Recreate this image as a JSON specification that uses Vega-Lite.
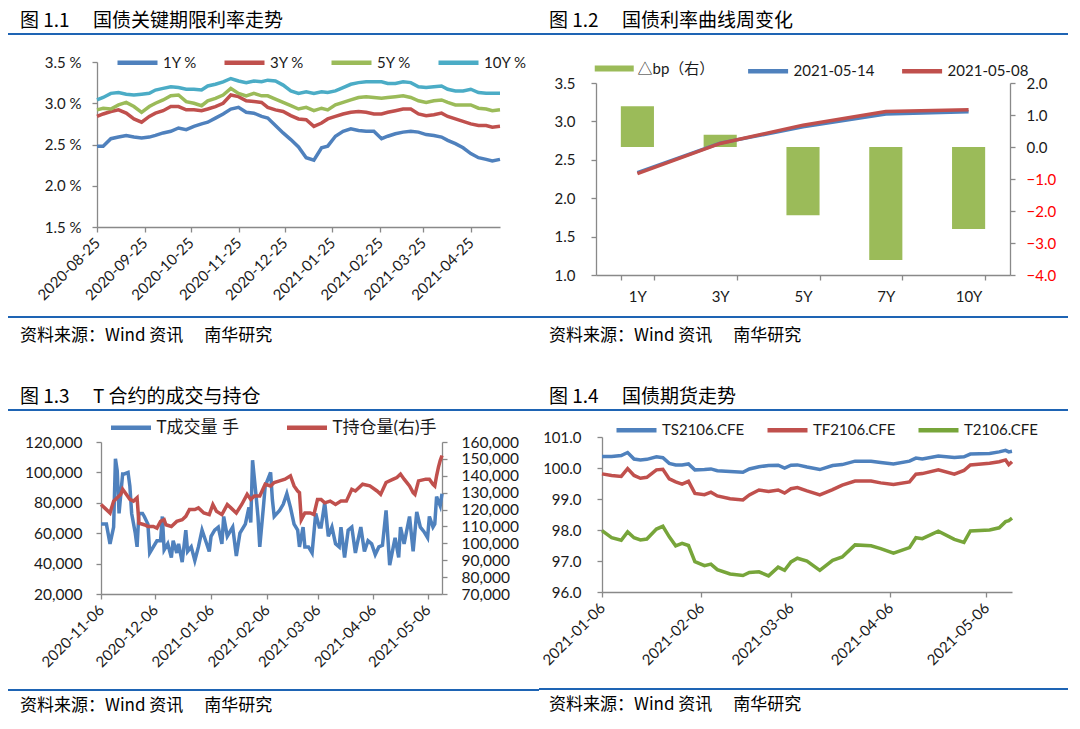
{
  "$schema": "https://vega.github.io/schema/vega-lite/v6.json",
  "background": "white",
  "padding": {"left": 8, "top": 12, "right": 4, "bottom": 4},
  "config": {
    "view": {"stroke": null},
    "font": "Lato",
    "title": {"font": "Noto Sans CJK SC", "fontWeight": "normal", "color": "#000000", "anchor": "start", "frame": "group"},
    "axis": {"domainColor": "#898989", "tickColor": "#898989", "labelColor": "#1a1a1a", "labelFont": "Lato", "labelFontSize": 15, "grid": false, "tickSize": 5, "domainWidth": 1.3, "tickWidth": 1.3},
    "legend": {"labelFont": "Lato, Noto Sans CJK SC", "labelFontSize": 15, "labelColor": "#1a1a1a", "orient": "none", "direction": "horizontal", "symbolType": "M-1,0H3", "symbolStrokeWidth": 4.5, "symbolSize": 400, "labelOffset": 23, "padding": 0}
  },
  "resolve": {"scale": {"color": "independent", "stroke": "independent"}, "legend": {"color": "independent", "stroke": "independent"}},
  "spacing": {"row": 44, "column": 0},
  "columns": 2,
  "concat": [
    {
      "resolve": {"scale": {"color": "independent", "stroke": "independent"}, "legend": {"color": "independent", "stroke": "independent"}},
      "spacing": 13,
      "vconcat": [
        {
          "resolve": {"scale": {"color": "independent", "stroke": "independent"}, "legend": {"color": "independent", "stroke": "independent"}},
          "spacing": 15,
          "vconcat": [
            {"width": 531, "height": 2, "data": {"values": []}, "mark": "text", "view": {"fill": "#1E64B4", "stroke": null},
             "title": {"text": "图 1.1　 国债关键期限利率走势", "dx": 12, "offset": 2, "fontSize": 19}},
            {
              "width": 492, "height": 165,
              "data": {"values": [
                {"d":"2020-08-25","1Y":2.48,"3Y":2.84,"5Y":2.92,"10Y":3.04},
                {"d":"2020-08-29","1Y":2.48,"3Y":2.87,"5Y":2.94,"10Y":3.07},
                {"d":"2020-09-03","1Y":2.57,"3Y":2.90,"5Y":2.93,"10Y":3.12},
                {"d":"2020-09-08","1Y":2.59,"3Y":2.92,"5Y":2.98,"10Y":3.13},
                {"d":"2020-09-13","1Y":2.61,"3Y":2.88,"5Y":3.01,"10Y":3.11},
                {"d":"2020-09-18","1Y":2.59,"3Y":2.81,"5Y":2.96,"10Y":3.10},
                {"d":"2020-09-23","1Y":2.58,"3Y":2.77,"5Y":2.89,"10Y":3.11},
                {"d":"2020-09-28","1Y":2.59,"3Y":2.84,"5Y":2.96,"10Y":3.12},
                {"d":"2020-10-02","1Y":2.61,"3Y":2.88,"5Y":3.00,"10Y":3.16},
                {"d":"2020-10-07","1Y":2.64,"3Y":2.91,"5Y":3.04,"10Y":3.18},
                {"d":"2020-10-12","1Y":2.66,"3Y":2.96,"5Y":3.09,"10Y":3.20},
                {"d":"2020-10-17","1Y":2.70,"3Y":2.96,"5Y":3.10,"10Y":3.19},
                {"d":"2020-10-22","1Y":2.68,"3Y":2.92,"5Y":3.02,"10Y":3.17},
                {"d":"2020-10-27","1Y":2.72,"3Y":2.92,"5Y":3.00,"10Y":3.17},
                {"d":"2020-11-01","1Y":2.75,"3Y":2.91,"5Y":2.97,"10Y":3.16},
                {"d":"2020-11-05","1Y":2.77,"3Y":2.93,"5Y":3.03,"10Y":3.21},
                {"d":"2020-11-10","1Y":2.82,"3Y":2.96,"5Y":3.06,"10Y":3.23},
                {"d":"2020-11-15","1Y":2.87,"3Y":3.00,"5Y":3.10,"10Y":3.26},
                {"d":"2020-11-20","1Y":2.93,"3Y":3.10,"5Y":3.18,"10Y":3.30},
                {"d":"2020-11-25","1Y":2.95,"3Y":3.08,"5Y":3.12,"10Y":3.27},
                {"d":"2020-11-30","1Y":2.89,"3Y":3.03,"5Y":3.09,"10Y":3.25},
                {"d":"2020-12-05","1Y":2.88,"3Y":3.02,"5Y":3.12,"10Y":3.27},
                {"d":"2020-12-10","1Y":2.84,"3Y":3.01,"5Y":3.09,"10Y":3.26},
                {"d":"2020-12-14","1Y":2.82,"3Y":2.95,"5Y":3.09,"10Y":3.28},
                {"d":"2020-12-19","1Y":2.73,"3Y":2.92,"5Y":3.05,"10Y":3.27},
                {"d":"2020-12-24","1Y":2.64,"3Y":2.90,"5Y":3.01,"10Y":3.22},
                {"d":"2020-12-29","1Y":2.56,"3Y":2.85,"5Y":2.97,"10Y":3.15},
                {"d":"2021-01-03","1Y":2.47,"3Y":2.81,"5Y":2.93,"10Y":3.12},
                {"d":"2021-01-08","1Y":2.34,"3Y":2.80,"5Y":2.95,"10Y":3.14},
                {"d":"2021-01-13","1Y":2.31,"3Y":2.72,"5Y":2.91,"10Y":3.12},
                {"d":"2021-01-18","1Y":2.46,"3Y":2.76,"5Y":2.94,"10Y":3.14},
                {"d":"2021-01-22","1Y":2.48,"3Y":2.81,"5Y":2.92,"10Y":3.13},
                {"d":"2021-01-27","1Y":2.60,"3Y":2.84,"5Y":2.98,"10Y":3.15},
                {"d":"2021-02-01","1Y":2.66,"3Y":2.87,"5Y":3.01,"10Y":3.19},
                {"d":"2021-02-06","1Y":2.69,"3Y":2.89,"5Y":3.04,"10Y":3.23},
                {"d":"2021-02-11","1Y":2.67,"3Y":2.90,"5Y":3.07,"10Y":3.25},
                {"d":"2021-02-16","1Y":2.66,"3Y":2.89,"5Y":3.08,"10Y":3.26},
                {"d":"2021-02-21","1Y":2.66,"3Y":2.87,"5Y":3.07,"10Y":3.26},
                {"d":"2021-02-26","1Y":2.57,"3Y":2.87,"5Y":3.06,"10Y":3.26},
                {"d":"2021-03-02","1Y":2.60,"3Y":2.89,"5Y":3.07,"10Y":3.24},
                {"d":"2021-03-07","1Y":2.63,"3Y":2.91,"5Y":3.08,"10Y":3.24},
                {"d":"2021-03-12","1Y":2.65,"3Y":2.93,"5Y":3.09,"10Y":3.26},
                {"d":"2021-03-17","1Y":2.66,"3Y":2.93,"5Y":3.07,"10Y":3.25},
                {"d":"2021-03-22","1Y":2.65,"3Y":2.87,"5Y":3.03,"10Y":3.20},
                {"d":"2021-03-27","1Y":2.62,"3Y":2.85,"5Y":3.01,"10Y":3.19},
                {"d":"2021-04-01","1Y":2.61,"3Y":2.86,"5Y":3.03,"10Y":3.20},
                {"d":"2021-04-06","1Y":2.59,"3Y":2.88,"5Y":3.04,"10Y":3.21},
                {"d":"2021-04-10","1Y":2.55,"3Y":2.84,"5Y":3.01,"10Y":3.17},
                {"d":"2021-04-15","1Y":2.51,"3Y":2.81,"5Y":2.98,"10Y":3.15},
                {"d":"2021-04-20","1Y":2.46,"3Y":2.78,"5Y":2.98,"10Y":3.15},
                {"d":"2021-04-25","1Y":2.39,"3Y":2.75,"5Y":2.98,"10Y":3.17},
                {"d":"2021-04-30","1Y":2.34,"3Y":2.73,"5Y":2.94,"10Y":3.13},
                {"d":"2021-05-05","1Y":2.32,"3Y":2.73,"5Y":2.93,"10Y":3.12},
                {"d":"2021-05-09","1Y":2.30,"3Y":2.71,"5Y":2.91,"10Y":3.12},
                {"d":"2021-05-14","1Y":2.32,"3Y":2.72,"5Y":2.92,"10Y":3.12}
              ]},
              "transform": [{"fold": ["1Y", "3Y", "5Y", "10Y"], "as": ["s", "v"]}],
              "mark": {"type": "line", "strokeWidth": 3.5},
              "encoding": {
                "x": {"field": "d", "type": "temporal",
                      "scale": {"type": "utc", "range": [89, 492], "domain": [{"year": 2020, "month": 8, "date": 25, "utc": true}, {"year": 2021, "month": 5, "date": 14, "utc": true}]},
                      "axis": {"title": null, "format": "%Y-%m-%d", "labelAngle": -45, "labelAlign": "right", "labelBaseline": "middle", "labelPadding": 8, "labelOverlap": false, "labelFlush": false,
                               "values": [{"year": 2020, "month": 8, "date": 25, "utc": true}, {"year": 2020, "month": 9, "date": 25, "utc": true}, {"year": 2020, "month": 10, "date": 25, "utc": true}, {"year": 2020, "month": 11, "date": 25, "utc": true}, {"year": 2020, "month": 12, "date": 25, "utc": true}, {"year": 2021, "month": 1, "date": 25, "utc": true}, {"year": 2021, "month": 2, "date": 25, "utc": true}, {"year": 2021, "month": 3, "date": 25, "utc": true}, {"year": 2021, "month": 4, "date": 25, "utc": true}]}},
                "y": {"field": "v", "type": "quantitative", "scale": {"domain": [1.5, 3.5]},
                      "axis": {"title": null, "offset": -89, "values": [1.5, 2, 2.5, 3, 3.5], "labelExpr": "format(datum.value, '.1f') + ' %'", "labelPadding": 11}},
                "color": {"field": "s", "type": "nominal",
                          "scale": {"domain": ["1Y", "3Y", "5Y", "10Y"], "range": ["#4F81BD", "#C0504D", "#9BBB59", "#4BACC6"]},
                          "legend": {"title": null, "legendX": 107, "legendY": -12, "columnPadding": 18, "labelExpr": "datum.label + ' %'"}}
              }
            }
          ]
        },
        {"width": 531, "height": 2, "data": {"values": []}, "mark": "text", "view": {"fill": "#1E64B4", "stroke": null},
         "title": {"text": "资料来源：Wind 资讯　 南华研究", "orient": "bottom", "dx": 12, "offset": 10, "fontSize": 17}}
      ]
    },
    {
      "resolve": {"scale": {"color": "independent", "stroke": "independent"}, "legend": {"color": "independent", "stroke": "independent"}},
      "spacing": 12,
      "vconcat": [
        {
          "resolve": {"scale": {"color": "independent", "stroke": "independent"}, "legend": {"color": "independent", "stroke": "independent"}},
          "spacing": 23,
          "vconcat": [
            {"width": 529, "height": 2, "data": {"values": []}, "mark": "text", "view": {"fill": "#1E64B4", "stroke": null},
             "title": {"text": "图 1.2　 国债利率曲线周变化", "dx": 10, "offset": 2, "fontSize": 19}},
            {
              "width": 471, "height": 192,
              "data": {"values": [
                {"t": "1Y", "bp": 1.27, "s14": 2.332, "s08": 2.319},
                {"t": "3Y", "bp": 0.38, "s14": 2.717, "s08": 2.713},
                {"t": "5Y", "bp": -2.13, "s14": 2.930, "s08": 2.951},
                {"t": "7Y", "bp": -3.53, "s14": 3.095, "s08": 3.130},
                {"t": "10Y", "bp": -2.56, "s14": 3.125, "s08": 3.151}
              ]},
              "encoding": {
                "x": {"field": "t", "type": "nominal", "sort": null,
                      "scale": {"range": [57, 471], "paddingInner": 0.6, "paddingOuter": 0.3},
                      "axis": {"title": null, "labelAngle": 0, "labelPadding": 9, "tickBand": "extent"}}
              },
              "layer": [
                {
                  "mark": {"type": "bar"},
                  "encoding": {
                    "y": {"field": "bp", "type": "quantitative", "scale": {"domain": [-4, 2]},
                          "axis": {"title": null, "orient": "right", "values": [-4, -3, -2, -1, 0, 1, 2], "format": ".1f", "labelPadding": 11,
                                   "labelColor": {"condition": {"test": "datum.value < 0", "value": "#FF0000"}, "value": "#1a1a1a"}}},
                    "color": {"datum": "△bp（右）", "type": "nominal", "scale": {"domain": ["△bp（右）"], "range": ["#9BBB59"]},
                              "legend": {"title": null, "legendX": 55.5, "legendY": -24.5, "symbolType": "M-1,-0.3H3V0.3H-1Z", "symbolSize": 380, "symbolStrokeWidth": 0}}
                  }
                },
                {
                  "transform": [{"fold": ["s14", "s08"], "as": ["s", "v"]}],
                  "mark": {"type": "line", "strokeWidth": 3.5},
                  "encoding": {
                    "y": {"field": "v", "type": "quantitative", "scale": {"domain": [1, 3.5]},
                          "axis": {"title": null, "orient": "left", "offset": -57, "values": [1, 1.5, 2, 2.5, 3, 3.5], "format": ".1f", "labelPadding": 16}},
                    "stroke": {"field": "s", "type": "nominal", "scale": {"domain": ["s14", "s08"], "range": ["#4F81BD", "#C0504D"]},
                               "legend": {"title": null, "legendX": 206.6, "legendY": -24.5, "columnPadding": 18, "labelExpr": "datum.label == 's14' ? '2021-05-14' : '2021-05-08'"}}
                  }
                }
              ],
              "resolve": {"scale": {"y": "independent"}}
            }
          ]
        },
        {"width": 529, "height": 2, "data": {"values": []}, "mark": "text", "view": {"fill": "#1E64B4", "stroke": null},
         "title": {"text": "资料来源：Wind 资讯　 南华研究", "orient": "bottom", "dx": 10, "offset": 10, "fontSize": 17}}
      ]
    },
    {
      "resolve": {"scale": {"color": "independent", "stroke": "independent"}, "legend": {"color": "independent", "stroke": "independent"}},
      "spacing": 19,
      "vconcat": [
        {
          "resolve": {"scale": {"color": "independent", "stroke": "independent"}, "legend": {"color": "independent", "stroke": "independent"}},
          "spacing": 4,
          "vconcat": [
            {"width": 531, "height": 2, "data": {"values": []}, "mark": "text", "view": {"fill": "#1E64B4", "stroke": null},
             "title": {"text": "图 1.3　 T 合约的成交与持仓", "dx": 12, "offset": 2, "fontSize": 19}},
            {
              "width": 434, "height": 152,
              "encoding": {
                "x": {"field": "d", "type": "temporal",
                      "scale": {"type": "utc", "range": [93, 434], "domain": [{"year": 2020, "month": 11, "date": 6, "utc": true}, {"year": 2021, "month": 5, "date": 14, "utc": true}]},
                      "axis": {"title": null, "format": "%Y-%m-%d", "labelAngle": -45, "labelAlign": "right", "labelBaseline": "middle", "labelPadding": 8, "labelOverlap": false, "labelFlush": false,
                               "values": [{"year": 2020, "month": 11, "date": 6, "utc": true}, {"year": 2020, "month": 12, "date": 6, "utc": true}, {"year": 2021, "month": 1, "date": 6, "utc": true}, {"year": 2021, "month": 2, "date": 6, "utc": true}, {"year": 2021, "month": 3, "date": 6, "utc": true}, {"year": 2021, "month": 4, "date": 6, "utc": true}, {"year": 2021, "month": 5, "date": 6, "utc": true}]}}
              },
              "layer": [
                {
                  "data": {"values": [
                    {"d":"2020-11-06","v":66000},{"d":"2020-11-09","v":66000},{"d":"2020-11-11","v":53000},{"d":"2020-11-13","v":64000},
                    {"d":"2020-11-14","v":109000},{"d":"2020-11-15","v":101000},{"d":"2020-11-16","v":73000},{"d":"2020-11-18","v":99000},
                    {"d":"2020-11-19","v":99000},{"d":"2020-11-21","v":100000},{"d":"2020-11-22","v":91000},{"d":"2020-11-23","v":73000},
                    {"d":"2020-11-25","v":60000},{"d":"2020-11-26","v":51000},{"d":"2020-11-27","v":73000},{"d":"2020-11-29","v":73000},
                    {"d":"2020-11-30","v":71000},{"d":"2020-12-02","v":66000},{"d":"2020-12-03","v":47000},{"d":"2020-12-05","v":51000},
                    {"d":"2020-12-07","v":55000},{"d":"2020-12-09","v":55000},{"d":"2020-12-10","v":71000},{"d":"2020-12-11","v":49000},
                    {"d":"2020-12-13","v":53000},{"d":"2020-12-15","v":44000},{"d":"2020-12-16","v":55000},{"d":"2020-12-18","v":47000},
                    {"d":"2020-12-19","v":53000},{"d":"2020-12-21","v":41000},{"d":"2020-12-23","v":62000},{"d":"2020-12-24","v":48000},
                    {"d":"2020-12-26","v":51000},{"d":"2020-12-28","v":42000},{"d":"2020-12-30","v":51000},{"d":"2021-01-01","v":62000},
                    {"d":"2021-01-03","v":55000},{"d":"2021-01-05","v":48000},{"d":"2021-01-06","v":58000},{"d":"2021-01-08","v":62000},
                    {"d":"2021-01-10","v":64000},{"d":"2021-01-12","v":53000},{"d":"2021-01-13","v":71000},{"d":"2021-01-15","v":58000},
                    {"d":"2021-01-17","v":62000},{"d":"2021-01-18","v":64000},{"d":"2021-01-20","v":45000},{"d":"2021-01-22","v":60000},
                    {"d":"2021-01-24","v":64000},{"d":"2021-01-25","v":66000},{"d":"2021-01-27","v":77000},{"d":"2021-01-28","v":67000},
                    {"d":"2021-01-29","v":108000},{"d":"2021-01-31","v":84000},{"d":"2021-02-01","v":71000},{"d":"2021-02-02","v":51000},
                    {"d":"2021-02-04","v":77000},{"d":"2021-02-05","v":91000},{"d":"2021-02-08","v":100000},{"d":"2021-02-09","v":82000},
                    {"d":"2021-02-10","v":71000},{"d":"2021-02-13","v":75000},{"d":"2021-02-15","v":79000},{"d":"2021-02-17","v":86000},
                    {"d":"2021-02-19","v":77000},{"d":"2021-02-21","v":66000},{"d":"2021-02-23","v":62000},{"d":"2021-02-24","v":51000},
                    {"d":"2021-02-26","v":64000},{"d":"2021-02-27","v":51000},{"d":"2021-03-01","v":51000},{"d":"2021-03-03","v":47000},
                    {"d":"2021-03-05","v":73000},{"d":"2021-03-07","v":64000},{"d":"2021-03-08","v":64000},{"d":"2021-03-10","v":80000},
                    {"d":"2021-03-12","v":58000},{"d":"2021-03-14","v":64000},{"d":"2021-03-16","v":53000},{"d":"2021-03-18","v":51000},
                    {"d":"2021-03-19","v":64000},{"d":"2021-03-21","v":44000},{"d":"2021-03-23","v":62000},{"d":"2021-03-25","v":64000},
                    {"d":"2021-03-27","v":47000},{"d":"2021-03-28","v":53000},{"d":"2021-03-30","v":64000},{"d":"2021-04-01","v":48000},
                    {"d":"2021-04-03","v":55000},{"d":"2021-04-05","v":53000},{"d":"2021-04-07","v":46000},{"d":"2021-04-09","v":51000},
                    {"d":"2021-04-11","v":52000},{"d":"2021-04-13","v":75000},{"d":"2021-04-15","v":39000},{"d":"2021-04-17","v":51000},
                    {"d":"2021-04-18","v":57000},{"d":"2021-04-20","v":44000},{"d":"2021-04-21","v":64000},{"d":"2021-04-23","v":53000},
                    {"d":"2021-04-26","v":71000},{"d":"2021-04-28","v":48000},{"d":"2021-04-30","v":74000},{"d":"2021-05-02","v":64000},
                    {"d":"2021-05-04","v":61000},{"d":"2021-05-06","v":57000},{"d":"2021-05-07","v":71000},{"d":"2021-05-09","v":64000},
                    {"d":"2021-05-10","v":66000},{"d":"2021-05-11","v":84000},{"d":"2021-05-13","v":78000},{"d":"2021-05-14","v":86000}
                  ]},
                  "mark": {"type": "line", "strokeWidth": 3.5},
                  "encoding": {
                    "y": {"field": "v", "type": "quantitative", "scale": {"domain": [20000, 120000]},
                          "axis": {"title": null, "orient": "left", "offset": -93, "values": [20000, 40000, 60000, 80000, 100000, 120000], "format": ",.0f", "labelFontSize": 15.5, "labelPadding": 14}},
                    "stroke": {"datum": "T成交量 手", "type": "nominal",
                               "scale": {"domain": ["T成交量 手", "T持仓量(右)手"], "range": ["#4F81BD", "#C0504D"]},
                               "legend": {"title": null, "legendX": 100.5, "legendY": -27, "columnPadding": 38, "labelFontSize": 17}}
                  }
                },
                {
                  "data": {"values": [
                    {"d":"2020-11-06","oi":123000},{"d":"2020-11-08","oi":121000},{"d":"2020-11-11","oi":118000},{"d":"2020-11-13","oi":125000},
                    {"d":"2020-11-15","oi":127000},{"d":"2020-11-17","oi":129000},{"d":"2020-11-18","oi":132000},{"d":"2020-11-20","oi":129000},
                    {"d":"2020-11-22","oi":126000},{"d":"2020-11-24","oi":125000},{"d":"2020-11-26","oi":127000},{"d":"2020-11-27","oi":112000},
                    {"d":"2020-11-30","oi":111000},{"d":"2020-12-02","oi":110000},{"d":"2020-12-05","oi":110000},{"d":"2020-12-07","oi":109000},
                    {"d":"2020-12-09","oi":113000},{"d":"2020-12-11","oi":114000},{"d":"2020-12-12","oi":111000},{"d":"2020-12-15","oi":110000},
                    {"d":"2020-12-18","oi":113000},{"d":"2020-12-21","oi":114000},{"d":"2020-12-23","oi":116000},{"d":"2020-12-25","oi":120000},
                    {"d":"2020-12-28","oi":120000},{"d":"2020-12-30","oi":121000},{"d":"2021-01-02","oi":118000},{"d":"2021-01-05","oi":117000},
                    {"d":"2021-01-07","oi":123000},{"d":"2021-01-09","oi":119000},{"d":"2021-01-12","oi":117000},{"d":"2021-01-15","oi":123000},
                    {"d":"2021-01-17","oi":121000},{"d":"2021-01-20","oi":118000},{"d":"2021-01-23","oi":123000},{"d":"2021-01-26","oi":129000},
                    {"d":"2021-01-28","oi":126000},{"d":"2021-01-30","oi":128000},{"d":"2021-02-02","oi":128000},{"d":"2021-02-05","oi":135000},
                    {"d":"2021-02-08","oi":134000},{"d":"2021-02-10","oi":136000},{"d":"2021-02-13","oi":137000},{"d":"2021-02-16","oi":138000},
                    {"d":"2021-02-19","oi":140000},{"d":"2021-02-21","oi":134000},{"d":"2021-02-23","oi":131000},{"d":"2021-02-24","oi":130000},
                    {"d":"2021-02-25","oi":114000},{"d":"2021-02-27","oi":118000},{"d":"2021-03-02","oi":118000},{"d":"2021-03-04","oi":117000},
                    {"d":"2021-03-06","oi":126000},{"d":"2021-03-08","oi":126000},{"d":"2021-03-10","oi":124000},{"d":"2021-03-13","oi":125000},
                    {"d":"2021-03-16","oi":123000},{"d":"2021-03-19","oi":125000},{"d":"2021-03-22","oi":125000},{"d":"2021-03-25","oi":132000},
                    {"d":"2021-03-27","oi":131000},{"d":"2021-03-31","oi":135000},{"d":"2021-04-04","oi":134000},{"d":"2021-04-08","oi":131000},
                    {"d":"2021-04-10","oi":129000},{"d":"2021-04-13","oi":136000},{"d":"2021-04-17","oi":138000},{"d":"2021-04-19","oi":139000},
                    {"d":"2021-04-21","oi":141000},{"d":"2021-04-23","oi":138000},{"d":"2021-04-26","oi":134000},{"d":"2021-04-28","oi":130000},
                    {"d":"2021-04-29","oi":129000},{"d":"2021-05-01","oi":137000},{"d":"2021-05-05","oi":138000},{"d":"2021-05-07","oi":138000},
                    {"d":"2021-05-09","oi":135000},{"d":"2021-05-10","oi":134000},{"d":"2021-05-11","oi":140000},{"d":"2021-05-12","oi":145000},
                    {"d":"2021-05-13","oi":149000},{"d":"2021-05-14","oi":152000}
                  ]},
                  "mark": {"type": "line", "strokeWidth": 3.5},
                  "encoding": {
                    "y": {"field": "oi", "type": "quantitative", "scale": {"domain": [70000, 160000]},
                          "axis": {"title": null, "orient": "right", "values": [70000, 80000, 90000, 100000, 110000, 120000, 130000, 140000, 150000, 160000], "format": ",.0f", "labelFontSize": 15.5, "labelPadding": 14}},
                    "stroke": {"datum": "T持仓量(右)手", "type": "nominal"}
                  }
                }
              ],
              "resolve": {"scale": {"y": "independent"}}
            }
          ]
        },
        {"width": 531, "height": 2, "data": {"values": []}, "mark": "text", "view": {"fill": "#1E64B4", "stroke": null},
         "title": {"text": "资料来源：Wind 资讯　 南华研究", "orient": "bottom", "dx": 12, "offset": 7, "fontSize": 17}}
      ]
    },
    {
      "resolve": {"scale": {"color": "independent", "stroke": "independent"}, "legend": {"color": "independent", "stroke": "independent"}},
      "spacing": 20,
      "vconcat": [
        {
          "resolve": {"scale": {"color": "independent", "stroke": "independent"}, "legend": {"color": "independent", "stroke": "independent"}},
          "spacing": 6,
          "vconcat": [
            {"width": 529, "height": 2, "data": {"values": []}, "mark": "text", "view": {"fill": "#1E64B4", "stroke": null},
             "title": {"text": "图 1.4　 国债期货走势", "dx": 10, "offset": 2, "fontSize": 19}},
            {
              "width": 473, "height": 155,
              "data": {"values": [
                {"d":"2021-01-06","TS":100.37,"TF":99.81,"T":97.98},
                {"d":"2021-01-09","TS":100.37,"TF":99.76,"T":97.75},
                {"d":"2021-01-12","TS":100.40,"TF":99.73,"T":97.67},
                {"d":"2021-01-14","TS":100.50,"TF":99.98,"T":97.94},
                {"d":"2021-01-16","TS":100.29,"TF":99.76,"T":97.75},
                {"d":"2021-01-18","TS":100.26,"TF":99.67,"T":97.68},
                {"d":"2021-01-20","TS":100.28,"TF":99.70,"T":97.71},
                {"d":"2021-01-23","TS":100.36,"TF":99.94,"T":98.03},
                {"d":"2021-01-25","TS":100.33,"TF":99.96,"T":98.12},
                {"d":"2021-01-27","TS":100.15,"TF":99.65,"T":97.78},
                {"d":"2021-01-29","TS":100.10,"TF":99.55,"T":97.49},
                {"d":"2021-01-31","TS":100.10,"TF":99.48,"T":97.57},
                {"d":"2021-02-02","TS":100.13,"TF":99.57,"T":97.50},
                {"d":"2021-02-04","TS":99.94,"TF":99.18,"T":96.98},
                {"d":"2021-02-07","TS":99.95,"TF":99.14,"T":96.85},
                {"d":"2021-02-09","TS":99.97,"TF":99.22,"T":96.90},
                {"d":"2021-02-11","TS":99.91,"TF":99.10,"T":96.72},
                {"d":"2021-02-15","TS":99.89,"TF":99.01,"T":96.58},
                {"d":"2021-02-19","TS":99.86,"TF":98.97,"T":96.53},
                {"d":"2021-02-21","TS":99.97,"TF":99.13,"T":96.63},
                {"d":"2021-02-24","TS":100.04,"TF":99.29,"T":96.65},
                {"d":"2021-02-27","TS":100.08,"TF":99.24,"T":96.52},
                {"d":"2021-03-02","TS":100.09,"TF":99.29,"T":96.80},
                {"d":"2021-03-04","TS":100.00,"TF":99.19,"T":96.70},
                {"d":"2021-03-06","TS":100.09,"TF":99.33,"T":96.97},
                {"d":"2021-03-08","TS":100.10,"TF":99.37,"T":97.09},
                {"d":"2021-03-11","TS":100.03,"TF":99.26,"T":97.00},
                {"d":"2021-03-15","TS":99.95,"TF":99.13,"T":96.70},
                {"d":"2021-03-19","TS":100.08,"TF":99.30,"T":97.02},
                {"d":"2021-03-22","TS":100.11,"TF":99.45,"T":97.13},
                {"d":"2021-03-26","TS":100.22,"TF":99.58,"T":97.52},
                {"d":"2021-03-31","TS":100.22,"TF":99.58,"T":97.49},
                {"d":"2021-04-03","TS":100.18,"TF":99.52,"T":97.40},
                {"d":"2021-04-07","TS":100.13,"TF":99.47,"T":97.25},
                {"d":"2021-04-12","TS":100.22,"TF":99.55,"T":97.43},
                {"d":"2021-04-14","TS":100.32,"TF":99.80,"T":97.75},
                {"d":"2021-04-16","TS":100.29,"TF":99.82,"T":97.72},
                {"d":"2021-04-21","TS":100.39,"TF":99.94,"T":97.96},
                {"d":"2021-04-26","TS":100.34,"TF":99.80,"T":97.70},
                {"d":"2021-04-29","TS":100.36,"TF":99.92,"T":97.60},
                {"d":"2021-05-01","TS":100.45,"TF":100.10,"T":97.97},
                {"d":"2021-05-07","TS":100.47,"TF":100.15,"T":98.00},
                {"d":"2021-05-10","TS":100.52,"TF":100.20,"T":98.07},
                {"d":"2021-05-12","TS":100.57,"TF":100.26,"T":98.27},
                {"d":"2021-05-13","TS":100.52,"TF":100.11,"T":98.30},
                {"d":"2021-05-14","TS":100.54,"TF":100.20,"T":98.38}
              ]},
              "transform": [{"fold": ["TS", "TF", "T"], "as": ["s", "v"]}],
              "mark": {"type": "line", "strokeWidth": 3.5},
              "encoding": {
                "x": {"field": "d", "type": "temporal",
                      "scale": {"type": "utc", "range": [63, 473], "domain": [{"year": 2021, "month": 1, "date": 6, "utc": true}, {"year": 2021, "month": 5, "date": 14, "utc": true}]},
                      "axis": {"title": null, "format": "%Y-%m-%d", "labelAngle": -45, "labelAlign": "right", "labelBaseline": "middle", "labelPadding": 8, "labelOverlap": false, "labelFlush": false,
                               "values": [{"year": 2021, "month": 1, "date": 6, "utc": true}, {"year": 2021, "month": 2, "date": 6, "utc": true}, {"year": 2021, "month": 3, "date": 6, "utc": true}, {"year": 2021, "month": 4, "date": 6, "utc": true}, {"year": 2021, "month": 5, "date": 6, "utc": true}]}},
                "y": {"field": "v", "type": "quantitative", "scale": {"domain": [96, 101]},
                      "axis": {"title": null, "offset": -63, "values": [96, 97, 98, 99, 100, 101], "format": ".1f", "labelPadding": 16}},
                "color": {"field": "s", "type": "nominal",
                          "scale": {"domain": ["TS", "TF", "T"], "range": ["#4F81BD", "#C0504D", "#77A53A"]},
                          "legend": {"title": null, "legendX": 75, "legendY": -19.6, "columnPadding": 13, "labelExpr": "datum.label + '2106.CFE'"}}
              }
            }
          ]
        },
        {"width": 529, "height": 2, "data": {"values": []}, "mark": "text", "view": {"fill": "#1E64B4", "stroke": null},
         "title": {"text": "资料来源：Wind 资讯　 南华研究", "orient": "bottom", "dx": 10, "offset": 7, "fontSize": 17}}
      ]
    }
  ]
}
